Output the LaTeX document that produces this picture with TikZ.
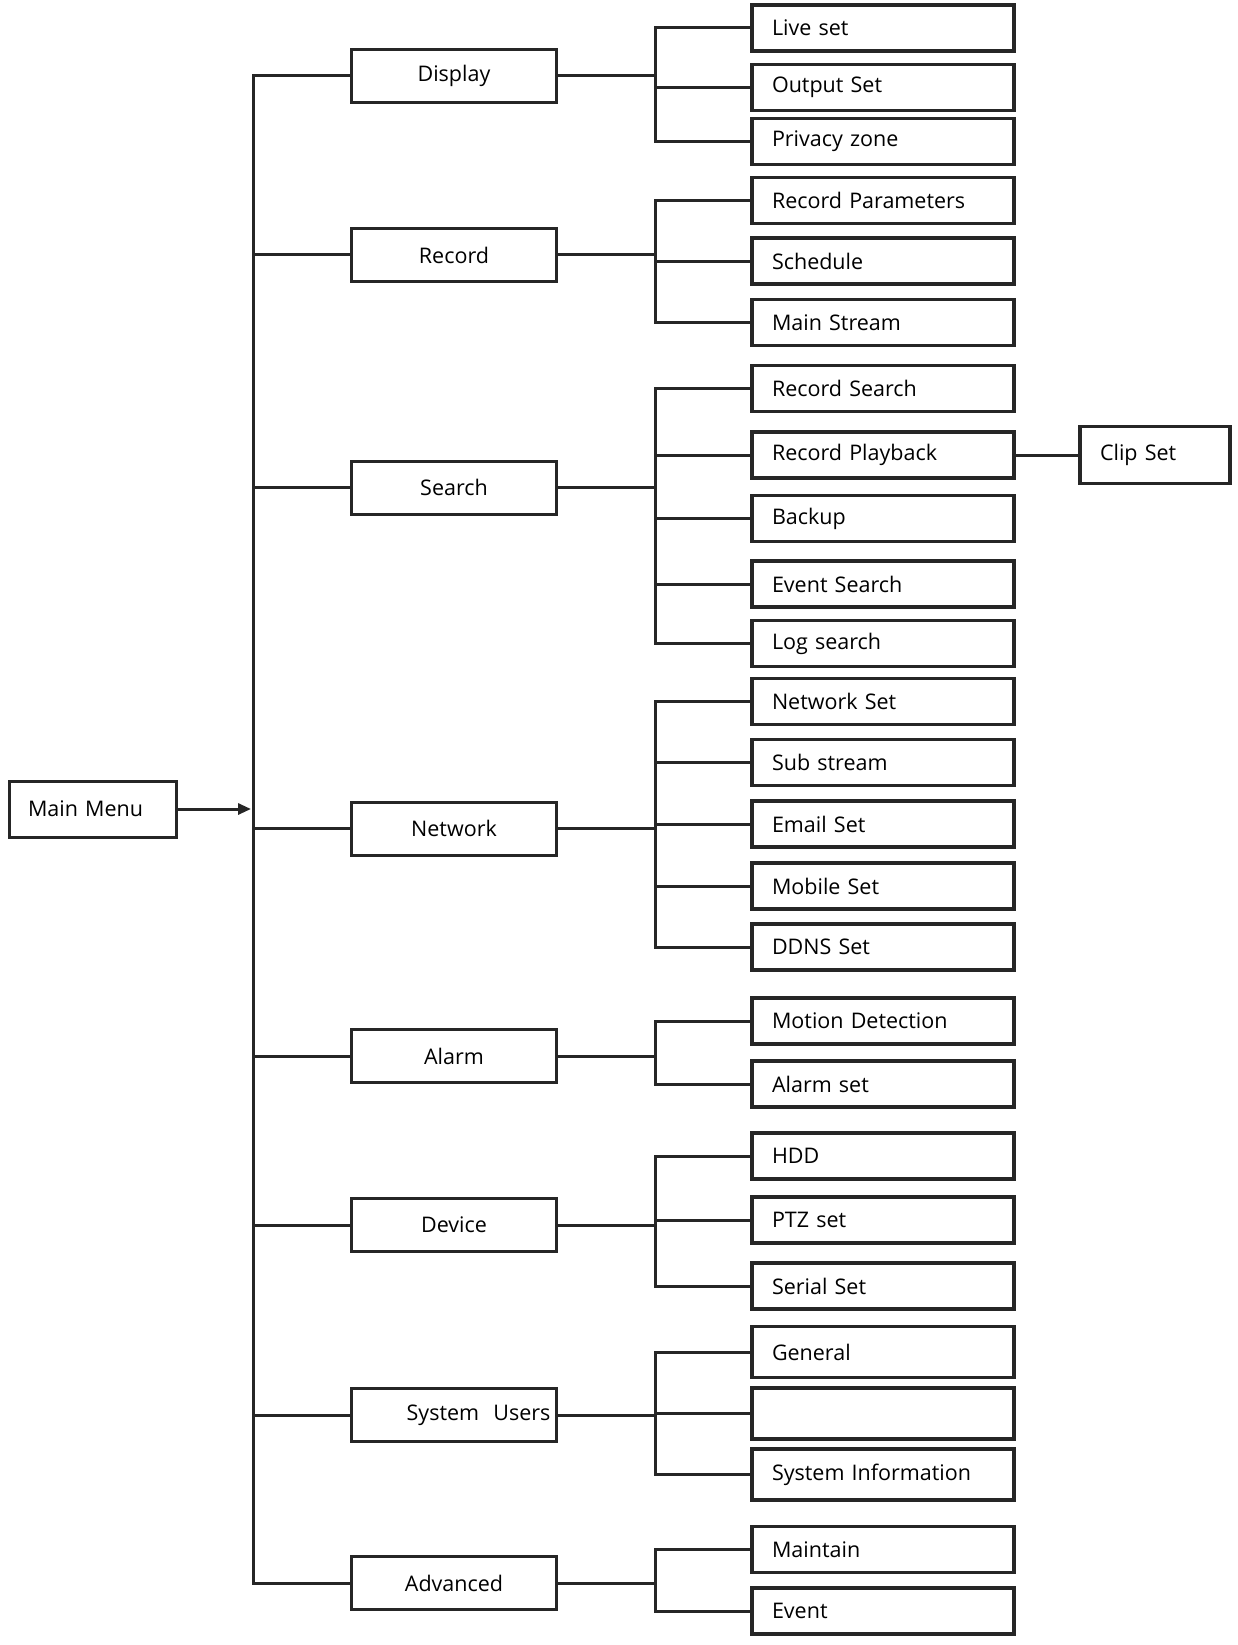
\documentclass[tikz,border=0pt]{standalone}
\usepackage{fontspec}
\setmainfont{Open Sans}
\usetikzlibrary{arrows.meta}
\begin{document}
\begin{tikzpicture}[x=1pt,y=-1pt,
    menubox/.style={draw=black!85,line width=3pt,minimum width=205pt,minimum height=53pt,
                    inner sep=0pt,font=\fontsize{21.5}{24}\selectfont},
    itembox/.style={draw=black!85,line width=3.5pt,text width=222pt,inner xsep=20pt,
                    inner ysep=0pt,minimum height=46pt,align=left,font=\fontsize{21.5}{24}\selectfont},
    link/.style={draw=black!85,line width=3pt}]
  \useasboundingbox (0,0) rectangle (1237,1645);

  % main menu and the bus it feeds
  \node[menubox,minimum width=167pt,minimum height=56pt,text width=129pt,inner xsep=19pt,align=left]
       (main) at (92.5,809) {Main Menu};
  \coordinate (hub) at (253,809);
  \coordinate (sub) at (655,0);

  % first level
  \foreach \nm/\y/\txt in {display/76/Display,
                           record/255/Record,
                           search/487.5/Search,
                           network/828.5/Network,
                           alarm/1056/Alarm,
                           device/1225/Device,
                           advanced/1583/Advanced}
  {\node[menubox] (\nm) at (454,\y) {\txt};
  };
  \node[menubox,text width=193pt,inner xsep=6pt,align=right] (users) at (454,1415) {System\ \ Users};

  % second level
  \foreach \nm/\y/\txt in {live/28/Live set,
                           output/87.5/Output Set,
                           privacy/141.5/Privacy zone,
                           recpar/200.5/Record Parameters,
                           schedule/261/Schedule,
                           mainstream/322.5/Main Stream,
                           recsearch/388.5/Record Search,
                           playback/455/Record Playback,
                           backup/518.5/Backup,
                           evsearch/584/Event Search,
                           logsearch/643.5/Log search,
                           netset/701.5/Network Set,
                           substream/762.5/Sub stream,
                           email/824/Email Set,
                           mobile/886/Mobile Set,
                           ddns/947/DDNS Set,
                           motion/1021/Motion Detection,
                           alarmset/1084/Alarm set,
                           hdd/1156/HDD,
                           ptz/1220/PTZ set,
                           serial/1286/Serial Set,
                           maintain/1549.5/Maintain,
                           event/1611/Event}
  {\node[itembox] (\nm) at (883,\y) {\txt};
  };
  \foreach \nm/\y/\txt in {general/1352/General,
                           blank/1413.5/,
                           sysinfo/1474.5/System Information}
  {\node[itembox,minimum height=51pt] (\nm) at (883,\y) {\txt};
  };

  % third level
  \node[itembox,text width=110pt,minimum height=57pt] (clip) at (1155,455) {Clip Set};

  \draw[link,-{Triangle[length=13pt,width=11pt]},shorten >=2pt] (main.east) -- (hub);
  \foreach \p in {display,record,search,network,alarm,device,users,advanced}
  {\draw[link] (hub) |- (\p.west);
  };

  \foreach \p/\c in {display/live,display/output,display/privacy,
                     record/recpar,record/schedule,record/mainstream,
                     search/recsearch,search/playback,search/backup,search/evsearch,search/logsearch,
                     network/netset,network/substream,network/email,network/mobile,network/ddns,
                     alarm/motion,alarm/alarmset,
                     device/hdd,device/ptz,device/serial,
                     users/general,users/blank,users/sysinfo,
                     advanced/maintain,advanced/event}
  {\draw[link] (\p.east) -- (\p.east -| sub) |- (\c.west);
  };

  \draw[link] (playback.east) -- (clip.west);
\end{tikzpicture}
\end{document}
